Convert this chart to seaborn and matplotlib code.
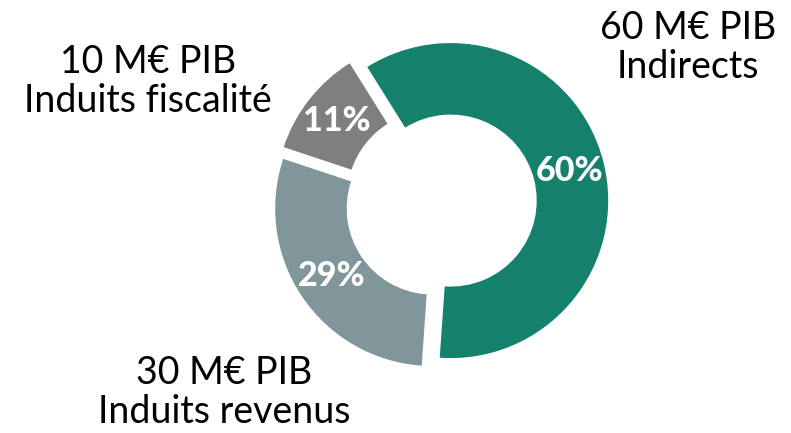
import matplotlib.pyplot as plt
import seaborn as sns

# slice data (clockwise from the top)
categories = ["Indirects", "Induits revenus", "Induits fiscalité"]
shares = [60, 29, 11]
pib_meur = [60, 30, 10]
colors = ["#15806C", "#80969B", "#7F7F7F"]

W, H = 791, 433
CX, CY, R = 441, 230, 157.5  # pie centre / radius in pixels (y from bottom)

sns.set_theme(style="white")
plt.rcParams["font.family"] = ["Lato", "DejaVu Sans"]

fig = plt.figure(figsize=(W / 100, H / 100), dpi=100)
ax = fig.add_axes([0, 0, 1, 1])

wedges, _, pcts = ax.pie(
    shares,
    colors=colors,
    startangle=122,
    counterclock=False,
    explode=[10 / R] * len(shares),
    autopct=lambda p: f"{p:.0f}%",
    pctdistance=0.775,
    wedgeprops=dict(width=71.5 / R, edgecolor="none"),
)
for t in pcts:
    t.set_color("white")
    t.set_fontsize(24.5)
    t.set_fontweight("black")

ax.set_xlim(-CX / R, (W - CX) / R)
ax.set_ylim(-CY / R, (H - CY) / R)
ax.set_aspect("equal")
ax.axis("off")

# outer labels: (x, last-line baseline) in pixels from top-left
label_pos = [(688, 78), (224, 423), (148, 112)]
for (x, y), cat, val in zip(label_pos, categories, pib_meur):
    fig.text(x / W, 1 - y / H, f"{val} M€ PIB\n{cat}", ha="center", va="baseline",
             fontsize=27, linespacing=1.12, color="black")

fig.savefig("out.png", dpi=100)
